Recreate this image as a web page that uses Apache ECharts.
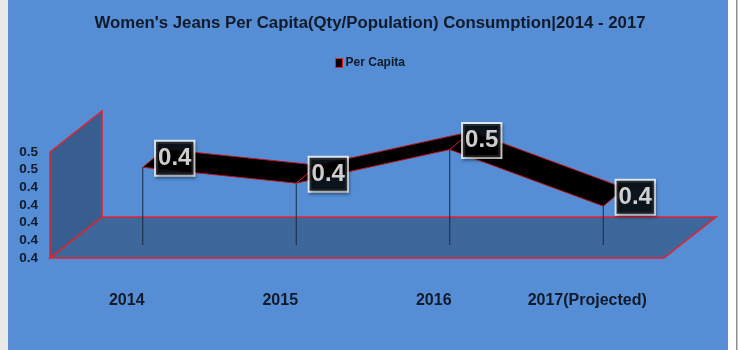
<!DOCTYPE html>
<html>
<head>
<meta charset="utf-8">
<script src="https://cdn.jsdelivr.net/npm/echarts@6/dist/echarts.min.js"></script>
<style>
  html, body { margin: 0; padding: 0; background: #ffffff; }
  #chart { width: 740px; height: 350px; }
</style>
</head>
<body>
<div id="chart"></div>
<script>
// ---- data ----
const categories = ['2014', '2015', '2016', '2017(Projected)'];
const perCapita = [0.448, 0.430, 0.468, 0.404];
const yMin = 0.36;
const yMax = 0.48;
const yInterval = 0.02;
const seriesName = 'Per Capita';
const titleText = "Women's Jeans Per Capita(Qty/Population) Consumption|2014 - 2017";

// ---- 3D-look styling constants ----
const FRONT = [-16, 13];   // offset of front plane from the data plane
const BACK = [36, -28];    // offset of back plane from the data plane
const RIB = [21.5, -18];   // depth of the ribbon
const MID = { left: 66, top: 139, width: 614, height: 106 };
const FONT = "'Liberation Sans', Arial, sans-serif";
const TXT = '#111a2a';

const chart = echarts.init(document.getElementById('chart'), null, { renderer: 'canvas' });

const segData = [];
for (let i = 0; i < perCapita.length - 1; i++) segData.push([i, perCapita[i], perCapita[i + 1]]);
const ptData = perCapita.map((v, i) => [i, v]);

function add(p, o) { return [p[0] + o[0], p[1] + o[1]]; }

const option = {
  animation: false,
  textStyle: { fontFamily: FONT },
  graphic: [
    { type: 'rect', z: -100, silent: true, shape: { x: 0, y: 0, width: 8, height: 350 }, style: { fill: '#e9e9e9' } },
    { type: 'rect', z: -100, silent: true, shape: { x: 8, y: 0, width: 720, height: 350 }, style: { fill: '#558ED5' } },
    { type: 'rect', z: -100, silent: true, shape: { x: 736, y: 0, width: 1.5, height: 350 }, style: { fill: '#8c8c8c' } }
  ],
  title: {
    text: titleText,
    left: 'center',
    top: 10,
    textStyle: { fontFamily: FONT, fontSize: 16.8, fontWeight: 'bold', color: TXT }
  },
  legend: {
    top: 52,
    left: 'center',
    icon: 'rect',
    itemWidth: 7,
    itemHeight: 9,
    itemGap: 4,
    selectedMode: false,
    data: [{ name: seriesName, itemStyle: { color: '#000000', borderColor: '#e0202a', borderWidth: 1 } }],
    textStyle: { fontFamily: FONT, fontSize: 12, fontWeight: 'bold', color: TXT, padding: [0, 0, 0, -2] }
  },
  grid: [
    { left: MID.left + FRONT[0], top: MID.top + FRONT[1], width: MID.width, height: MID.height },
    { left: MID.left, top: MID.top, width: MID.width, height: MID.height }
  ],
  xAxis: [
    {
      gridIndex: 0, type: 'category', data: categories,
      axisLine: { show: false }, axisTick: { show: false }, splitLine: { show: false },
      axisLabel: { interval: 0, margin: 35, fontFamily: FONT, fontSize: 16, fontWeight: 'bold', color: TXT }
    },
    {
      gridIndex: 1, type: 'category', data: categories, show: false
    }
  ],
  yAxis: [
    {
      gridIndex: 0, type: 'value', min: yMin, max: yMax, interval: yInterval,
      axisLine: { show: false }, axisTick: { show: false }, splitLine: { show: false },
      axisLabel: { margin: 12, fontFamily: FONT, fontSize: 13.5, fontWeight: 'bold', color: TXT,
        formatter: v => v.toFixed(1) }
    },
    {
      gridIndex: 1, type: 'value', min: yMin, max: yMax, interval: yInterval, show: false
    }
  ],
  series: [
    {
      type: 'custom', name: 'floor', xAxisIndex: 1, yAxisIndex: 1, silent: true, clip: false, z: 1,
      data: [[0, yMin]],
      renderItem: function (params, api) {
        const cs = params.coordSys;
        const x0 = cs.x, x1 = cs.x + cs.width, yt = cs.y, yb = cs.y + cs.height;
        const floor = [add([x0, yb], FRONT), add([x1, yb], FRONT), add([x1, yb], BACK), add([x0, yb], BACK)];
        const wall = [add([x0, yb], FRONT), add([x0, yt], FRONT), add([x0, yt], BACK), add([x0, yb], BACK)];
        return {
          type: 'group',
          children: [
            { type: 'polygon', shape: { points: floor }, style: { fill: '#3e689c', stroke: '#e8202a', lineWidth: 1.5 } },
            { type: 'polygon', shape: { points: wall }, style: { fill: '#385e90', stroke: '#e8202a', lineWidth: 1.5 } }
          ]
        };
      }
    },
    {
      type: 'custom', name: 'drop', xAxisIndex: 1, yAxisIndex: 1, silent: true, clip: false, z: 2,
      data: ptData,
      renderItem: function (params, api) {
        const p = api.coord([api.value(0), api.value(1)]);
        const b = api.coord([api.value(0), yMin]);
        return { type: 'line', shape: { x1: p[0], y1: p[1], x2: b[0], y2: b[1] },
          style: { stroke: '#1b2740', lineWidth: 1 } };
      }
    },
    {
      type: 'custom', name: seriesName, xAxisIndex: 1, yAxisIndex: 1, silent: true, clip: false, z: 3,
      itemStyle: { color: '#000000' },
      data: segData,
      encode: { x: 0, y: 1 },
      renderItem: function (params, api) {
        const i = api.value(0);
        const p = api.coord([i, api.value(1)]);
        const q = api.coord([i + 1, api.value(2)]);
        return {
          type: 'polygon',
          shape: { points: [p, q, add(q, RIB), add(p, RIB)] },
          style: { fill: '#000000', stroke: '#c0141c', lineWidth: 1 }
        };
      }
    },
    {
      type: 'scatter', name: 'labels', xAxisIndex: 1, yAxisIndex: 1, silent: true, z: 5,
      symbolSize: 1,
      itemStyle: { color: 'rgba(0,0,0,0)' },
      data: ptData,
      label: {
        show: true,
        position: 'inside',
        offset: [32, -9],
        formatter: p => p.value[1].toFixed(1),
        fontFamily: FONT,
        fontSize: 24,
        fontWeight: 'bold',
        color: '#ffffff',
        backgroundColor: '#000000',
        borderColor: '#ffffff',
        borderWidth: 2,
        padding: [4, 2, 2, 2],
        lineHeight: 27,
        shadowColor: 'rgba(0,0,0,0.4)',
        shadowBlur: 3,
        shadowOffsetX: 1,
        shadowOffsetY: 2
      }
    }
  ]
};

chart.setOption(option);
</script>
</body>
</html>
